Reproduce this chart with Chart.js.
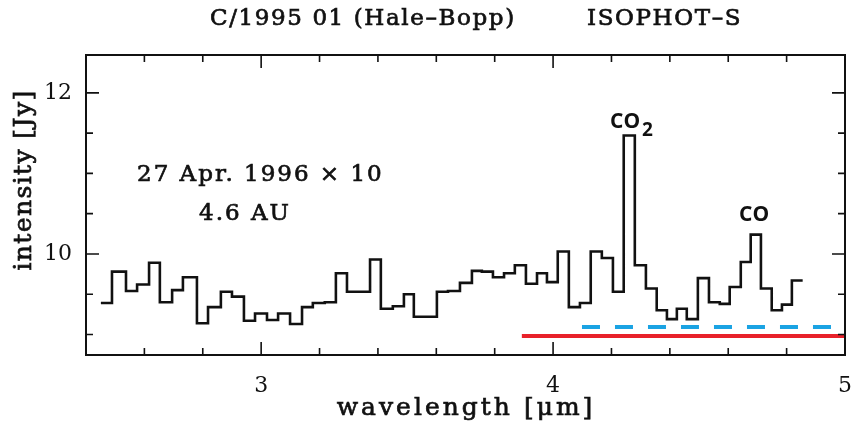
<!DOCTYPE html>
<html>
<head>
<meta charset="utf-8">
<script src="https://cdn.jsdelivr.net/npm/chart.js@4"></script>
<style>
  html, body { margin: 0; padding: 0; background: #fff; }
</style>
</head>
<body>
<canvas id="grafico" width="852" height="427"></canvas>
<script>
// Left edge of each spectral bin [µm], last entry = right edge of last bin
const wavelengths = [
  2.451, 2.489, 2.537, 2.575, 2.616, 2.653, 2.695, 2.732, 2.780, 2.818,
  2.862, 2.900, 2.941, 2.979, 3.020, 3.058, 3.099, 3.140, 3.177, 3.218,
  3.256, 3.294, 3.335, 3.373, 3.410, 3.451, 3.489, 3.523, 3.564, 3.602,
  3.640, 3.681, 3.722, 3.756, 3.794, 3.832, 3.869, 3.907, 3.945, 3.979,
  4.016, 4.054, 4.092, 4.129, 4.167, 4.205, 4.242, 4.280, 4.318, 4.355,
  4.390, 4.424, 4.458, 4.496, 4.534, 4.571, 4.605, 4.643, 4.677, 4.712,
  4.749, 4.784, 4.818, 4.855
];
// intensity [Jy] in each bin
const intensidade = [
  9.39, 9.78, 9.54, 9.62, 9.89, 9.40, 9.55, 9.71, 9.14, 9.34,
  9.53, 9.47, 9.17, 9.26, 9.18, 9.26, 9.13, 9.34, 9.39, 9.40,
  9.76, 9.53, 9.53, 9.93, 9.32, 9.35, 9.50, 9.22, 9.22, 9.53,
  9.54, 9.64, 9.79, 9.78, 9.71, 9.76, 9.86, 9.63, 9.76, 9.65,
  10.03, 9.34, 9.39, 10.03, 9.95, 9.53, 11.47, 9.86, 9.57, 9.30,
  9.19, 9.32, 9.19, 9.70, 9.40, 9.38, 9.59, 9.90, 10.24, 9.57,
  9.30, 9.37, 9.67
];
// horizontal reference bars
const linhaVermelha = { x: [3.893, 5.0], y: 8.98 };
const linhaAzul = { x: [4.099, 5.0], y: 9.093 };

const xMajor = [3, 4, 5];
const xMinor = [2.6, 2.8, 3.2, 3.4, 3.6, 3.8, 4.2, 4.4, 4.6, 4.8];
const yMajor = [10, 12];
const yMinor = [9, 9.5, 10.5, 11, 11.5];

const pontos = intensidade.map((v, i) => ({ x: wavelengths[i], y: v }));
pontos.push({ x: wavelengths[wavelengths.length - 1], y: intensidade[intensidade.length - 1] });

const serif = "'DejaVu Serif'";

// box, inward ticks and free texts
const moldura = {
  id: 'moldura',
  afterDraw(chart) {
    const c = chart.ctx, a = chart.chartArea;
    const sx = chart.scales.x, sy = chart.scales.y;
    c.save();
    c.strokeStyle = '#111';
    c.lineWidth = 2;
    c.strokeRect(a.left, a.top, a.right - a.left, a.bottom - a.top);
    c.lineWidth = 1.6;
    const tickX = (v, len) => {
      const p = sx.getPixelForValue(v);
      c.beginPath();
      c.moveTo(p, a.bottom); c.lineTo(p, a.bottom - len);
      c.moveTo(p, a.top); c.lineTo(p, a.top + len);
      c.stroke();
    };
    const tickY = (v, len) => {
      const p = sy.getPixelForValue(v);
      c.beginPath();
      c.moveTo(a.left, p); c.lineTo(a.left + len, p);
      c.moveTo(a.right, p); c.lineTo(a.right - len, p);
      c.stroke();
    };
    xMajor.forEach(v => tickX(v, 13));
    xMinor.forEach(v => tickX(v, 7));
    yMajor.forEach(v => tickY(v, 13));
    yMinor.forEach(v => tickY(v, 7));

    // serif text, slightly thickened like the plotted original
    c.fillStyle = '#111';
    c.lineWidth = 0.7;
    const texto = (t, x, y) => { c.fillText(t, x, y); c.strokeText(t, x, y); };
    c.textBaseline = 'middle';
    c.textAlign = 'left';
    c.font = '23px ' + serif;
    c.letterSpacing = '1.6px';
    texto('C/1995 01 (Hale\u2013Bopp)', 210, 19);
    texto('ISOPHOT\u2013S', 587, 19);
    c.letterSpacing = '2px';
    texto('27 Apr. 1996 \u00d7 10', 137, 175);
    texto('4.6 AU', 199, 214);

    // axis titles
    c.font = '25px ' + serif;
    c.letterSpacing = '3px';
    c.textAlign = 'center';
    texto('wavelength [\u03bcm]', 466, 408);
    c.save();
    c.translate(24, 180);
    c.rotate(-Math.PI / 2);
    c.letterSpacing = '1.4px';
    texto('intensity [Jy]', 0, 0);
    c.restore();

    c.letterSpacing = '0px';
    c.textAlign = 'left';
    c.font = 'bold 21px "Open Sans"';
    c.fillText('CO', 610, 122);
    c.fillText('CO', 739, 215);
    c.font = 'bold 19px "Open Sans"';
    c.fillText('2', 642, 131);
    c.restore();
  }
};

new Chart(document.getElementById('grafico'), {
  type: 'line',
  data: {
    datasets: [
      {
        data: pontos,
        stepped: 'before',
        borderColor: '#111',
        borderWidth: 2.6,
        pointRadius: 0,
        fill: false
      },
      {
        data: linhaVermelha.x.map(x => ({ x, y: linhaVermelha.y })),
        borderColor: '#e8212a',
        borderWidth: 4,
        pointRadius: 0
      },
      {
        data: linhaAzul.x.map(x => ({ x, y: linhaAzul.y })),
        borderColor: '#1aa3e3',
        borderWidth: 4,
        borderDash: [18, 15],
        pointRadius: 0
      }
    ]
  },
  plugins: [moldura],
  options: {
    responsive: false,
    animation: false,
    devicePixelRatio: 1,
    layout: { padding: { left: 0, right: 7, top: 55, bottom: 0 } },
    plugins: { legend: { display: false }, tooltip: { enabled: false } },
    scales: {
      x: {
        type: 'linear',
        min: 2.4, max: 5.0,
        afterFit: s => { s.height = 72; s.paddingLeft = 0; s.paddingRight = 0; },
        afterBuildTicks: s => { s.ticks = xMajor.map(v => ({ value: v })); },
        grid: { display: false, drawTicks: false },
        border: { display: false },
        ticks: { color: '#111', padding: 18, maxRotation: 0, font: { family: serif, size: 22 } }
      },
      y: {
        type: 'linear',
        min: 8.745, max: 12.47,
        afterFit: s => { s.width = 86; s.paddingTop = 0; s.paddingBottom = 0; },
        afterBuildTicks: s => { s.ticks = yMajor.map(v => ({ value: v })); },
        grid: { display: false, drawTicks: false },
        border: { display: false },
        ticks: { color: '#111', padding: 14, font: { family: serif, size: 22 } }
      }
    }
  }
});
</script>
</body>
</html>
